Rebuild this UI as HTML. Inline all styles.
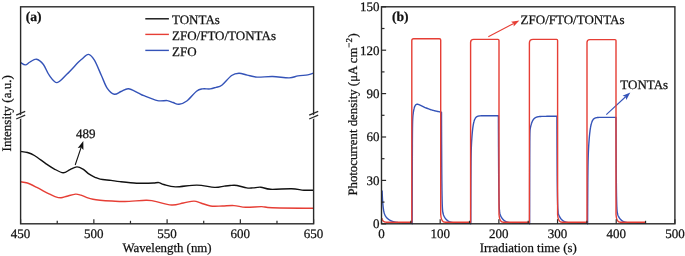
<!DOCTYPE html><html><head><meta charset="utf-8"><style>html,body{margin:0;padding:0;background:#fff;overflow:hidden;}svg{display:block;will-change:transform;}text{font-family:"Liberation Serif",serif;fill:#111;text-rendering:geometricPrecision;stroke:#111;stroke-width:0.25px;}</style></head><body>
<svg width="685" height="256" viewBox="0 0 685 256">
<path d="M20.50,62.50 C21.32,62.90 23.82,64.98 25.40,64.90 C26.98,64.82 28.15,62.95 30.00,62.00 C31.85,61.05 34.27,58.78 36.50,59.20 C38.73,59.62 41.28,61.83 43.40,64.50 C45.52,67.17 46.93,72.18 49.20,75.20 C51.47,78.22 54.07,82.75 57.00,82.60 C59.93,82.45 63.30,77.63 66.80,74.30 C70.30,70.97 75.47,65.15 78.00,62.60 C80.53,60.05 80.25,60.37 82.00,59.00 C83.75,57.63 86.43,54.20 88.50,54.40 C90.57,54.60 92.25,56.68 94.40,60.20 C96.55,63.72 99.25,70.80 101.40,75.50 C103.55,80.20 105.15,85.28 107.30,88.40 C109.45,91.52 112.02,93.68 114.30,94.20 C116.58,94.72 118.65,92.40 121.00,91.50 C123.35,90.60 125.57,88.58 128.40,88.80 C131.23,89.02 135.42,91.65 138.00,92.80 C140.58,93.95 140.65,94.40 143.90,95.70 C147.15,97.00 153.60,99.78 157.50,100.60 C161.40,101.42 164.70,100.28 167.30,100.60 C169.90,100.92 171.15,101.88 173.10,102.50 C175.05,103.12 176.72,104.55 179.00,104.30 C181.28,104.05 183.88,103.18 186.80,101.00 C189.72,98.82 193.90,93.22 196.50,91.20 C199.10,89.18 200.12,89.28 202.40,88.90 C204.68,88.52 207.93,89.17 210.20,88.90 C212.47,88.63 214.07,87.90 216.00,87.30 C217.93,86.70 219.20,87.27 221.80,85.30 C224.40,83.33 228.73,77.52 231.60,75.50 C234.47,73.48 236.40,73.27 239.00,73.20 C241.60,73.13 244.20,74.45 247.20,75.10 C250.20,75.75 252.77,76.87 257.00,77.10 C261.23,77.33 267.23,76.37 272.60,76.50 C277.97,76.63 284.97,78.00 289.20,77.90 C293.43,77.80 294.90,76.40 298.00,75.90 C301.10,75.40 305.30,75.35 307.80,74.90 C310.30,74.45 312.13,73.48 313.00,73.20" fill="none" stroke="#3453b8" stroke-width="1.4"/>
<path d="M20.60,151.50 C21.73,151.67 25.10,151.83 27.40,152.50 C29.70,153.17 31.28,153.62 34.40,155.50 C37.52,157.38 42.83,161.58 46.10,163.80 C49.37,166.02 51.15,167.30 54.00,168.80 C56.85,170.30 60.53,172.67 63.20,172.80 C65.87,172.93 67.72,170.58 70.00,169.60 C72.28,168.62 74.73,166.97 76.90,166.90 C79.07,166.83 80.95,167.98 83.00,169.20 C85.05,170.42 87.20,172.85 89.20,174.20 C91.20,175.55 93.18,176.48 95.00,177.30 C96.82,178.12 97.43,178.58 100.10,179.10 C102.77,179.62 107.68,179.98 111.00,180.40 C114.32,180.82 115.73,181.13 120.00,181.60 C124.27,182.07 131.87,182.93 136.60,183.20 C141.33,183.47 145.50,183.23 148.40,183.20 C151.30,183.17 152.25,183.10 154.00,183.00 C155.75,182.90 157.27,182.35 158.90,182.60 C160.53,182.85 161.03,183.78 163.80,184.50 C166.57,185.22 169.98,186.80 175.50,186.90 C181.02,187.00 190.40,185.02 196.90,185.10 C203.40,185.18 209.95,187.23 214.50,187.40 C219.05,187.57 221.62,186.42 224.20,186.10 C226.78,185.78 227.87,185.60 230.00,185.50 C232.13,185.40 234.22,185.10 237.00,185.50 C239.78,185.90 244.05,187.50 246.70,187.90 C249.35,188.30 250.55,188.02 252.90,187.90 C255.25,187.78 257.87,186.97 260.80,187.20 C263.73,187.43 265.37,189.03 270.50,189.30 C275.63,189.57 286.03,188.65 291.60,188.80 C297.17,188.95 300.23,189.97 303.90,190.20 C307.57,190.43 311.98,190.20 313.60,190.20" fill="none" stroke="#111" stroke-width="1.4"/>
<path d="M20.60,181.80 C21.73,182.00 24.70,182.07 27.40,183.00 C30.10,183.93 33.28,185.63 36.80,187.40 C40.32,189.17 45.47,192.07 48.50,193.60 C51.53,195.13 52.92,195.90 55.00,196.60 C57.08,197.30 59.00,197.87 61.00,197.80 C63.00,197.73 64.58,196.82 67.00,196.20 C69.42,195.58 73.17,194.27 75.50,194.10 C77.83,193.93 79.08,194.62 81.00,195.20 C82.92,195.78 85.00,196.92 87.00,197.60 C89.00,198.28 90.83,198.87 93.00,199.30 C95.17,199.73 96.83,199.92 100.00,200.20 C103.17,200.48 107.85,200.78 112.00,201.00 C116.15,201.22 119.23,201.62 124.90,201.50 C130.57,201.38 141.15,200.37 146.00,200.30 C150.85,200.23 149.73,200.32 154.00,201.10 C158.27,201.88 166.72,204.68 171.60,205.00 C176.48,205.32 179.57,203.65 183.30,203.00 C187.03,202.35 191.08,201.10 194.00,201.10 C196.92,201.10 198.03,202.18 200.80,203.00 C203.57,203.82 207.02,205.50 210.60,206.00 C214.18,206.50 218.40,206.07 222.30,206.00 C226.20,205.93 230.08,205.38 234.00,205.60 C237.92,205.82 241.18,207.13 245.80,207.30 C250.42,207.47 257.30,206.52 261.70,206.60 C266.10,206.68 263.55,207.52 272.20,207.80 C280.85,208.08 306.70,208.22 313.60,208.30" fill="none" stroke="#e63e35" stroke-width="1.4"/>
<rect x="20.60" y="6.80" width="293.00" height="217.00" fill="none" stroke="#2a2a2a" stroke-width="1.4"/>
<line x1="20.60" y1="223.80" x2="20.60" y2="219.20" stroke="#2a2a2a" stroke-width="1.2"/>
<line x1="57.23" y1="223.80" x2="57.23" y2="220.80" stroke="#2a2a2a" stroke-width="1.2"/>
<line x1="93.85" y1="223.80" x2="93.85" y2="219.20" stroke="#2a2a2a" stroke-width="1.2"/>
<line x1="130.47" y1="223.80" x2="130.47" y2="220.80" stroke="#2a2a2a" stroke-width="1.2"/>
<line x1="167.10" y1="223.80" x2="167.10" y2="219.20" stroke="#2a2a2a" stroke-width="1.2"/>
<line x1="203.72" y1="223.80" x2="203.72" y2="220.80" stroke="#2a2a2a" stroke-width="1.2"/>
<line x1="240.35" y1="223.80" x2="240.35" y2="219.20" stroke="#2a2a2a" stroke-width="1.2"/>
<line x1="276.98" y1="223.80" x2="276.98" y2="220.80" stroke="#2a2a2a" stroke-width="1.2"/>
<line x1="313.60" y1="223.80" x2="313.60" y2="219.20" stroke="#2a2a2a" stroke-width="1.2"/>
<text x="20.60" y="237.60" font-size="13.00" text-anchor="middle">450</text>
<text x="93.85" y="237.60" font-size="13.00" text-anchor="middle">500</text>
<text x="167.10" y="237.60" font-size="13.00" text-anchor="middle">550</text>
<text x="240.35" y="237.60" font-size="13.00" text-anchor="middle">600</text>
<text x="313.60" y="237.60" font-size="13.00" text-anchor="middle">650</text>
<polygon points="17.60,116.30 23.60,113.80 23.60,117.40 17.60,119.90" fill="#fff"/>
<line x1="16.20" y1="115.20" x2="25.20" y2="111.40" stroke="#2a2a2a" stroke-width="1.25"/>
<line x1="16.20" y1="119.00" x2="25.20" y2="115.20" stroke="#2a2a2a" stroke-width="1.25"/>
<polygon points="310.60,116.30 316.60,113.80 316.60,117.40 310.60,119.90" fill="#fff"/>
<line x1="309.20" y1="115.20" x2="318.20" y2="111.40" stroke="#2a2a2a" stroke-width="1.25"/>
<line x1="309.20" y1="119.00" x2="318.20" y2="115.20" stroke="#2a2a2a" stroke-width="1.25"/>
<text x="25.8" y="21.00" font-size="13.60" font-weight="bold">(a)</text>
<text x="167" y="251.80" font-size="12.85" text-anchor="middle">Wavelength (nm)</text>
<text transform="translate(10.80,113.3) rotate(-90)" font-size="13.00" text-anchor="middle">Intensity (a.u.)</text>
<line x1="145.3" y1="18.80" x2="168.9" y2="18.80" stroke="#111" stroke-width="1.4"/>
<text x="172" y="24.10" font-size="13.00">TONTAs</text>
<line x1="145.3" y1="34.40" x2="168.9" y2="34.40" stroke="#e63e35" stroke-width="1.4"/>
<text x="172" y="39.70" font-size="13.00">ZFO/FTO/TONTAs</text>
<line x1="145.3" y1="50.40" x2="168.9" y2="50.40" stroke="#3453b8" stroke-width="1.4"/>
<text x="172" y="55.70" font-size="13.00">ZFO</text>
<text x="76" y="137.5" font-size="13.00">489</text>
<line x1="75.20" y1="165.00" x2="81.13" y2="147.44" stroke="#111" stroke-width="1.10"/><path d="M83.30,141.00 L83.42,150.01 L81.13,147.44 L77.74,148.09 Z" fill="#111"/>
<line x1="488.30" y1="36.80" x2="513.74" y2="23.39" stroke="#e63e35" stroke-width="1.10"/><path d="M519.40,20.40 L513.63,26.61 L513.74,23.39 L511.02,21.65 Z" fill="#e63e35"/>
<line x1="606.30" y1="114.60" x2="625.60" y2="96.75" stroke="#3453b8" stroke-width="1.10"/><path d="M630.30,92.40 L626.33,99.89 L625.60,96.75 L622.53,95.78 Z" fill="#3453b8"/>
<path d="M382.10,190.53 L382.22,193.43 L382.33,195.97 L382.45,198.21 L382.57,200.18 L382.69,201.92 L382.80,203.45 L382.92,204.81 L383.04,206.02 L383.16,207.09 L383.27,208.05 L383.39,208.90 L383.51,209.67 L383.63,210.36 L383.74,210.99 L383.86,211.55 L383.98,212.06 L384.10,212.53 L384.21,212.96 L384.33,213.35 L384.45,213.71 L384.56,214.04 L384.68,214.35 L384.80,214.64 L384.92,214.91 L385.03,215.17 L385.15,215.40 L385.27,215.63 L385.39,215.84 L385.50,216.04 L385.62,216.24 L385.74,216.42 L385.86,216.60 L385.97,216.76 L386.09,216.93 L386.21,217.08 L386.32,217.23 L386.44,217.37 L386.56,217.51 L386.68,217.65 L386.79,217.78 L386.91,217.91 L387.03,218.03 L387.15,218.15 L387.26,218.27 L387.38,218.38 L387.50,218.49 L387.62,218.60 L387.73,218.70 L387.85,218.80 L387.97,218.90 L388.09,219.00 L388.20,219.09 L388.32,219.18 L388.44,219.27 L388.55,219.36 L388.67,219.45 L388.79,219.53 L388.91,219.61 L389.02,219.69 L389.14,219.77 L389.26,219.85 L389.38,219.92 L389.49,219.99 L389.61,220.07 L389.73,220.13 L389.85,220.20 L389.96,220.27 L390.08,220.33 L390.20,220.40 L390.32,220.46 L390.43,220.52 L390.55,220.58 L390.67,220.64 L390.78,220.70 L390.90,220.75 L391.02,220.81 L391.14,220.86 L391.25,220.91 L391.37,220.96 L391.49,221.01 L391.61,221.06 L391.72,221.11 L391.84,221.15 L391.96,221.20 L392.08,221.24 L392.19,221.29 L392.31,221.33 L392.43,221.37 L392.55,221.41 L392.66,221.45 L392.78,221.49 L392.90,221.53 L393.01,221.57 L393.13,221.60 L393.25,221.64 L393.37,221.67 L393.48,221.71 L393.60,221.74 L393.72,221.77 L393.84,221.80 L393.95,221.84 L394.07,221.87 L394.19,221.90 L394.31,221.92 L394.42,221.95 L394.54,221.98 L394.66,222.01 L394.77,222.03 L394.89,222.06 L395.01,222.09 L395.13,222.11 L395.24,222.14 L395.36,222.16 L395.48,222.18 L395.60,222.21 L395.71,222.23 L395.83,222.25 L395.95,222.27 L396.07,222.29 L396.18,222.31 L396.30,222.33 L396.42,222.35 L396.54,222.37 L396.65,222.39 L396.77,222.41 L396.89,222.43 L397.00,222.44 L397.12,222.46 L397.24,222.48 L397.36,222.49 L397.47,222.51 L397.59,222.53 L397.71,222.54 L397.83,222.56 L397.94,222.57 L398.06,222.58 L398.18,222.60 L398.30,222.61 L398.41,222.63 L398.53,222.64 L398.65,222.65 L398.77,222.66 L398.88,222.68 L399.00,222.69 L399.12,222.70 L399.23,222.71 L399.35,222.72 L399.47,222.73 L399.59,222.74 L399.70,222.75 L399.82,222.77 L399.94,222.78 L400.06,222.78 L400.17,222.79 L400.29,222.80 L400.41,222.81 L400.53,222.82 L400.64,222.83 L400.76,222.84 L400.88,222.85 L400.99,222.86 L401.11,222.86 L401.23,222.87 L401.35,222.88 L401.46,222.89 L401.58,222.89 L401.70,222.90 L401.82,222.91 L401.93,222.92 L402.05,222.92 L402.17,222.93 L402.29,222.94 L402.40,222.94 L402.52,222.95 L402.64,222.95 L402.76,222.96 L402.87,222.97 L402.99,222.97 L403.11,222.98 L403.22,222.98 L403.34,222.99 L403.46,222.99 L403.58,223.00 L403.69,223.00 L403.81,223.01 L403.93,223.01 L404.05,223.02 L404.16,223.02 L404.28,223.03 L404.40,223.03 L404.52,223.03 L404.63,223.04 L404.75,223.04 L404.87,223.05 L404.99,223.05 L405.10,223.05 L405.22,223.06 L405.34,223.06 L405.45,223.06 L405.57,223.07 L405.69,223.07 L405.81,223.07 L405.92,223.08 L406.04,223.08 L406.16,223.08 L406.28,223.09 L406.39,223.09 L406.51,223.09 L406.63,223.10 L406.75,223.10 L406.86,223.10 L406.98,223.10 L407.10,223.11 L407.22,223.11 L407.33,223.11 L407.45,223.11 L407.57,223.12 L407.68,223.12 L407.80,223.12 L407.92,223.12 L408.04,223.13 L408.15,223.13 L408.27,223.13 L408.39,223.13 L408.51,223.13 L408.62,223.14 L408.74,223.14 L408.86,223.14 L408.98,223.14 L409.09,223.14 L409.21,223.14 L409.33,223.15 L409.44,223.15 L409.56,223.15 L409.68,223.15 L409.80,223.15 L409.91,223.15 L410.03,223.16 L410.15,223.16 L410.27,223.16 L410.38,223.16 L410.50,223.16 L410.62,223.16 L410.74,223.16 L410.85,223.16 L410.97,223.17 L411.09,223.17 L411.21,223.17 L411.32,223.17 L411.44,223.17 L411.56,223.17 L411.67,223.17 L411.79,223.17 L411.91,223.18 L412.03,223.18 L412.14,223.18 L412.20,223.80 L412.26,183.69 L412.32,159.07 L412.38,143.87 L412.43,134.37 L412.49,128.35 L412.55,124.45 L412.61,121.84 L412.67,120.02 L412.73,118.70 L412.79,117.67 L412.85,116.85 L412.90,116.14 L412.96,115.52 L413.02,114.96 L413.08,114.45 L413.14,113.96 L413.20,113.50 L413.26,113.07 L413.31,112.65 L413.37,112.25 L413.43,111.87 L413.49,111.51 L413.55,111.16 L413.61,110.82 L413.67,110.50 L413.73,110.19 L413.78,109.89 L413.84,109.61 L413.90,109.34 L413.96,109.08 L414.02,108.83 L414.08,108.59 L414.14,108.36 L414.20,108.14 L414.25,107.92 L414.31,107.72 L414.37,107.53 L414.43,107.35 L414.49,107.17 L414.55,107.00 L414.61,106.84 L414.66,106.68 L414.72,106.54 L414.78,106.40 L414.84,106.26 L414.90,106.14 L414.96,106.01 L415.02,105.90 L415.08,105.79 L415.13,105.68 L415.19,105.58 L415.25,105.49 L415.31,105.40 L415.37,105.31 L415.43,105.23 L415.49,105.16 L415.54,105.08 L415.60,105.02 L415.66,104.95 L415.72,104.89 L415.78,104.83 L415.84,104.78 L415.90,104.73 L415.96,104.68 L416.01,104.64 L416.07,104.60 L416.13,104.56 L416.19,104.52 L416.25,104.49 L416.31,104.46 L416.37,104.43 L416.42,104.41 L416.48,104.38 L416.54,104.36 L416.60,104.34 L416.66,104.33 L416.72,104.31 L416.78,104.30 L416.84,104.29 L416.89,104.28 L416.95,104.27 L417.01,104.26 L417.07,104.26 L417.13,104.26 L417.19,104.25 L417.25,104.25 L417.31,104.26 L417.36,104.26 L417.42,104.26 L417.48,104.27 L417.54,104.27 L417.60,104.28 L417.66,104.29 L417.72,104.29 L417.77,104.30 L417.83,104.31 L417.89,104.33 L417.95,104.34 L418.01,104.35 L418.07,104.37 L418.13,104.38 L418.19,104.40 L418.24,104.41 L418.30,104.43 L418.36,104.45 L418.42,104.46 L418.48,104.48 L418.54,104.50 L418.60,104.52 L418.65,104.54 L418.71,104.56 L418.77,104.58 L418.83,104.61 L418.89,104.63 L418.95,104.65 L419.01,104.67 L419.07,104.70 L419.12,104.72 L419.18,104.74 L419.24,104.77 L419.30,104.79 L419.36,104.82 L419.42,104.84 L419.48,104.87 L419.53,104.89 L419.59,104.92 L419.65,104.94 L419.71,104.97 L419.77,105.00 L419.83,105.02 L419.89,105.05 L419.95,105.08 L420.00,105.11 L420.06,105.13 L420.12,105.16 L420.18,105.19 L420.24,105.22 L420.30,105.24 L420.36,105.27 L420.42,105.30 L420.47,105.33 L420.53,105.36 L420.59,105.38 L420.65,105.41 L420.71,105.44 L420.77,105.47 L420.83,105.50 L420.88,105.53 L420.94,105.56 L421.00,105.58 L421.06,105.61 L421.12,105.64 L421.18,105.67 L421.24,105.70 L421.30,105.73 L421.35,105.76 L421.41,105.79 L421.47,105.81 L421.53,105.84 L421.59,105.87 L421.65,105.90 L421.71,105.93 L421.76,105.96 L421.82,105.99 L421.88,106.02 L421.94,106.05 L422.00,106.07 L422.06,106.10 L422.12,106.13 L422.18,106.16 L422.23,106.19 L422.29,106.22 L422.35,106.25 L422.41,106.28 L422.47,106.30 L422.53,106.33 L422.59,106.36 L422.65,106.39 L422.70,106.42 L422.76,106.45 L422.82,106.47 L422.88,106.50 L422.94,106.53 L423.00,106.56 L423.06,106.59 L423.11,106.61 L423.17,106.64 L423.23,106.67 L423.29,106.70 L423.35,106.73 L423.41,106.75 L423.47,106.78 L423.53,106.81 L423.58,106.84 L423.64,106.86 L423.70,106.89 L423.76,106.92 L423.82,106.95 L423.88,106.97 L423.94,107.00 L424.52,107.27 L425.11,107.53 L425.70,107.78 L426.28,108.02 L426.87,108.26 L427.46,108.49 L428.04,108.71 L428.63,108.93 L429.22,109.14 L429.80,109.34 L430.39,109.54 L430.98,109.72 L431.56,109.91 L432.15,110.08 L432.74,110.25 L433.32,110.42 L433.91,110.58 L434.50,110.73 L435.09,110.88 L435.67,111.03 L436.26,111.17 L436.85,111.30 L437.43,111.44 L438.02,111.56 L438.61,111.68 L439.19,111.80 L439.78,111.92 L440.37,112.03 L440.95,112.14 L441.50,112.14 L441.56,129.89 L441.62,144.47 L441.68,156.45 L441.73,166.29 L441.79,174.38 L441.85,181.05 L441.91,186.54 L441.97,191.07 L442.03,194.82 L442.09,197.92 L442.15,200.49 L442.20,202.63 L442.26,204.42 L442.32,205.91 L442.38,207.16 L442.44,208.22 L442.50,209.12 L442.56,209.88 L442.61,210.54 L442.67,211.10 L442.73,211.60 L442.79,212.03 L442.85,212.41 L442.91,212.75 L442.97,213.05 L443.03,213.33 L443.08,213.58 L443.14,213.81 L443.20,214.02 L443.26,214.22 L443.32,214.41 L443.38,214.59 L443.44,214.76 L443.50,214.92 L443.55,215.07 L443.61,215.22 L443.67,215.37 L443.73,215.51 L443.79,215.64 L443.85,215.77 L443.91,215.90 L443.96,216.03 L444.02,216.15 L444.08,216.27 L444.14,216.39 L444.20,216.50 L444.26,216.62 L444.32,216.73 L444.38,216.83 L444.43,216.94 L444.49,217.05 L444.55,217.15 L444.61,217.25 L444.67,217.35 L444.73,217.45 L444.79,217.54 L444.84,217.64 L444.90,217.73 L444.96,217.82 L445.02,217.91 L445.08,218.00 L445.14,218.08 L445.20,218.17 L445.26,218.25 L445.31,218.33 L445.37,218.41 L445.43,218.49 L445.49,218.57 L445.55,218.65 L445.61,218.72 L445.67,218.80 L445.72,218.87 L445.78,218.94 L445.84,219.01 L445.90,219.08 L445.96,219.15 L446.02,219.22 L446.08,219.29 L446.14,219.35 L446.19,219.41 L446.25,219.48 L446.31,219.54 L446.37,219.60 L446.43,219.66 L446.49,219.72 L446.55,219.78 L446.61,219.83 L446.66,219.89 L446.72,219.94 L446.78,220.00 L446.84,220.05 L446.90,220.10 L446.96,220.16 L447.02,220.21 L447.07,220.26 L447.13,220.31 L447.19,220.35 L447.25,220.40 L447.31,220.45 L447.37,220.49 L447.43,220.54 L447.49,220.58 L447.54,220.63 L447.60,220.67 L447.66,220.71 L447.72,220.75 L447.78,220.79 L447.84,220.83 L447.90,220.87 L447.95,220.91 L448.01,220.95 L448.07,220.99 L448.13,221.03 L448.19,221.06 L448.25,221.10 L448.31,221.13 L448.37,221.17 L448.42,221.20 L448.48,221.23 L448.54,221.27 L448.60,221.30 L448.66,221.33 L448.72,221.36 L448.78,221.39 L448.83,221.42 L448.89,221.45 L448.95,221.48 L449.01,221.51 L449.07,221.54 L449.13,221.57 L449.19,221.59 L449.25,221.62 L449.30,221.65 L449.36,221.67 L449.42,221.70 L449.48,221.72 L449.54,221.75 L449.60,221.77 L449.66,221.80 L449.72,221.82 L449.77,221.84 L449.83,221.87 L449.89,221.89 L449.95,221.91 L450.01,221.93 L450.07,221.95 L450.13,221.98 L450.18,222.00 L450.24,222.02 L450.30,222.04 L450.36,222.06 L450.42,222.07 L450.48,222.09 L450.54,222.11 L450.60,222.13 L450.65,222.15 L450.71,222.17 L450.77,222.18 L450.83,222.20 L450.89,222.22 L450.95,222.23 L451.01,222.25 L451.06,222.27 L451.12,222.28 L451.18,222.30 L451.24,222.31 L451.30,222.33 L451.36,222.34 L451.42,222.36 L451.48,222.37 L451.53,222.39 L451.59,222.40 L451.65,222.41 L451.71,222.43 L451.77,222.44 L451.83,222.45 L451.89,222.47 L451.95,222.48 L452.00,222.49 L452.06,222.50 L452.12,222.51 L452.18,222.53 L452.24,222.54 L452.30,222.55 L452.36,222.56 L452.41,222.57 L452.47,222.58 L452.53,222.59 L452.59,222.60 L452.65,222.61 L452.71,222.62 L452.77,222.63 L452.83,222.64 L452.88,222.65 L452.94,222.66 L453.00,222.67 L453.06,222.68 L453.12,222.69 L453.18,222.70 L453.24,222.71 L453.29,222.71 L453.35,222.72 L453.41,222.73 L453.47,222.74 L453.53,222.75 L453.59,222.76 L453.65,222.76 L453.71,222.77 L453.76,222.78 L453.82,222.79 L453.88,222.79 L453.94,222.80 L454.00,222.81 L454.06,222.81 L454.12,222.82 L454.17,222.83 L454.23,222.83 L454.29,222.84 L454.35,222.85 L454.41,222.85 L454.47,222.86 L454.53,222.86 L454.59,222.87 L454.64,222.88 L454.70,222.88 L454.76,222.89 L454.82,222.89 L454.88,222.90 L454.94,222.90 L455.00,222.91 L455.06,222.91 L455.11,222.92 L455.17,222.92 L455.23,222.93 L455.29,222.93 L455.35,222.94 L455.41,222.94 L455.47,222.95 L455.52,222.95 L455.58,222.96 L455.64,222.96 L455.70,222.97 L455.76,222.97 L455.82,222.97 L455.88,222.98 L455.94,222.98 L455.99,222.99 L456.05,222.99 L456.11,222.99 L456.17,223.00 L456.23,223.00 L456.29,223.00 L456.35,223.01 L456.40,223.01 L456.46,223.02 L456.52,223.02 L456.58,223.02 L456.64,223.03 L456.70,223.03 L456.76,223.03 L456.82,223.03 L456.87,223.04 L456.93,223.04 L456.99,223.04 L457.05,223.05 L457.11,223.05 L457.17,223.05 L457.23,223.06 L457.28,223.06 L457.34,223.06 L457.40,223.06 L457.46,223.07 L457.52,223.07 L457.58,223.07 L457.64,223.07 L457.70,223.08 L457.75,223.08 L457.81,223.08 L457.87,223.08 L457.93,223.09 L457.99,223.09 L458.05,223.09 L458.11,223.09 L458.17,223.09 L458.22,223.10 L458.28,223.10 L458.34,223.10 L458.40,223.10 L458.46,223.10 L458.52,223.11 L458.58,223.11 L458.63,223.11 L458.69,223.11 L458.75,223.11 L458.81,223.12 L458.87,223.12 L458.93,223.12 L458.99,223.12 L459.05,223.12 L459.10,223.12 L460.28,223.15 L461.45,223.17 L462.62,223.19 L463.80,223.20 L464.97,223.20 L466.15,223.21 L467.32,223.21 L468.49,223.21 L469.67,223.22 L470.80,223.80 L470.86,196.72 L470.92,179.73 L470.98,168.88 L471.03,161.78 L471.09,156.98 L471.15,153.58 L471.21,151.05 L471.27,149.06 L471.33,147.43 L471.39,146.02 L471.45,144.76 L471.50,143.61 L471.56,142.54 L471.62,141.53 L471.68,140.57 L471.74,139.66 L471.80,138.78 L471.86,137.94 L471.91,137.13 L471.97,136.35 L472.03,135.60 L472.09,134.87 L472.15,134.18 L472.21,133.51 L472.27,132.86 L472.33,132.24 L472.38,131.64 L472.44,131.06 L472.50,130.50 L472.56,129.96 L472.62,129.45 L472.68,128.95 L472.74,128.47 L472.80,128.00 L472.85,127.56 L472.91,127.13 L472.97,126.71 L473.03,126.31 L473.09,125.93 L473.15,125.56 L473.21,125.20 L473.26,124.86 L473.32,124.53 L473.38,124.21 L473.44,123.90 L473.50,123.60 L473.56,123.32 L473.62,123.04 L473.68,122.77 L473.73,122.52 L473.79,122.27 L473.85,122.03 L473.91,121.80 L473.97,121.58 L474.03,121.37 L474.09,121.17 L474.14,120.97 L474.20,120.78 L474.26,120.60 L474.32,120.42 L474.38,120.25 L474.44,120.08 L474.50,119.93 L474.56,119.77 L474.61,119.63 L474.67,119.48 L474.73,119.35 L474.79,119.22 L474.85,119.09 L474.91,118.97 L474.97,118.85 L475.02,118.74 L475.08,118.63 L475.14,118.52 L475.20,118.42 L475.26,118.32 L475.32,118.23 L475.38,118.14 L475.44,118.05 L475.49,117.97 L475.55,117.89 L475.61,117.81 L475.67,117.73 L475.73,117.66 L475.79,117.59 L475.85,117.52 L475.91,117.46 L475.96,117.39 L476.02,117.33 L476.08,117.28 L476.14,117.22 L476.20,117.17 L476.26,117.11 L476.32,117.06 L476.37,117.02 L476.43,116.97 L476.49,116.92 L476.55,116.88 L476.61,116.84 L476.67,116.80 L476.73,116.76 L476.79,116.72 L476.84,116.69 L476.90,116.65 L476.96,116.62 L477.02,116.59 L477.08,116.56 L477.14,116.53 L477.20,116.50 L477.25,116.47 L477.31,116.44 L477.37,116.42 L477.43,116.39 L477.49,116.37 L477.55,116.34 L477.61,116.32 L477.67,116.30 L477.72,116.28 L477.78,116.26 L477.84,116.24 L477.90,116.22 L477.96,116.21 L478.02,116.19 L478.08,116.17 L478.13,116.16 L478.19,116.14 L478.25,116.13 L478.31,116.11 L478.37,116.10 L478.43,116.08 L478.49,116.07 L478.55,116.06 L478.60,116.05 L478.66,116.04 L478.72,116.03 L478.78,116.01 L478.84,116.00 L478.90,115.99 L478.96,115.99 L479.02,115.98 L479.07,115.97 L479.13,115.96 L479.19,115.95 L479.25,115.94 L479.31,115.94 L479.37,115.93 L479.43,115.92 L479.48,115.91 L479.54,115.91 L479.60,115.90 L479.66,115.90 L479.72,115.89 L479.78,115.88 L479.84,115.88 L479.90,115.87 L479.95,115.87 L480.01,115.86 L480.07,115.86 L480.13,115.85 L480.19,115.85 L480.25,115.85 L480.31,115.84 L480.36,115.84 L480.42,115.83 L480.48,115.83 L480.54,115.83 L480.60,115.82 L480.66,115.82 L480.72,115.82 L480.78,115.81 L480.83,115.81 L480.89,115.81 L480.95,115.81 L481.01,115.80 L481.07,115.80 L481.13,115.80 L481.19,115.80 L481.25,115.79 L481.30,115.79 L481.36,115.79 L481.42,115.79 L481.48,115.79 L481.54,115.78 L481.60,115.78 L481.66,115.78 L481.71,115.78 L481.77,115.78 L481.83,115.77 L481.89,115.77 L481.95,115.77 L482.01,115.77 L482.07,115.77 L482.13,115.77 L482.18,115.77 L482.24,115.77 L482.30,115.76 L482.36,115.76 L482.42,115.76 L482.48,115.76 L482.54,115.76 L483.12,115.75 L483.71,115.75 L484.30,115.74 L484.88,115.74 L485.47,115.74 L486.06,115.74 L486.64,115.74 L487.23,115.74 L487.82,115.73 L488.40,115.73 L488.99,115.73 L489.58,115.73 L490.16,115.73 L490.75,115.73 L491.34,115.73 L491.92,115.73 L492.51,115.73 L493.10,115.73 L493.69,115.73 L494.27,115.73 L494.86,115.73 L495.45,115.73 L496.03,115.73 L496.62,115.73 L497.21,115.73 L497.79,115.73 L498.38,115.73 L498.40,115.73 L498.46,132.92 L498.52,147.02 L498.58,158.61 L498.63,168.13 L498.69,175.96 L498.75,182.41 L498.81,187.73 L498.87,192.11 L498.93,195.74 L498.99,198.74 L499.05,201.23 L499.10,203.30 L499.16,205.02 L499.22,206.47 L499.28,207.68 L499.34,208.71 L499.40,209.57 L499.46,210.31 L499.51,210.95 L499.57,211.50 L499.63,211.97 L499.69,212.39 L499.75,212.76 L499.81,213.09 L499.87,213.38 L499.93,213.65 L499.98,213.89 L500.04,214.11 L500.10,214.32 L500.16,214.51 L500.22,214.70 L500.28,214.87 L500.34,215.03 L500.40,215.19 L500.45,215.34 L500.51,215.48 L500.57,215.62 L500.63,215.76 L500.69,215.89 L500.75,216.02 L500.81,216.14 L500.86,216.26 L500.92,216.38 L500.98,216.50 L501.04,216.61 L501.10,216.72 L501.16,216.83 L501.22,216.94 L501.28,217.04 L501.33,217.14 L501.39,217.25 L501.45,217.34 L501.51,217.44 L501.57,217.54 L501.63,217.63 L501.69,217.73 L501.74,217.82 L501.80,217.91 L501.86,217.99 L501.92,218.08 L501.98,218.17 L502.04,218.25 L502.10,218.33 L502.16,218.41 L502.21,218.49 L502.27,218.57 L502.33,218.65 L502.39,218.72 L502.45,218.80 L502.51,218.87 L502.57,218.94 L502.62,219.01 L502.68,219.08 L502.74,219.15 L502.80,219.22 L502.86,219.28 L502.92,219.35 L502.98,219.41 L503.04,219.48 L503.09,219.54 L503.15,219.60 L503.21,219.66 L503.27,219.72 L503.33,219.78 L503.39,219.83 L503.45,219.89 L503.51,219.94 L503.56,220.00 L503.62,220.05 L503.68,220.10 L503.74,220.15 L503.80,220.21 L503.86,220.26 L503.92,220.30 L503.97,220.35 L504.03,220.40 L504.09,220.45 L504.15,220.49 L504.21,220.54 L504.27,220.58 L504.33,220.63 L504.39,220.67 L504.44,220.71 L504.50,220.75 L504.56,220.79 L504.62,220.83 L504.68,220.87 L504.74,220.91 L504.80,220.95 L504.85,220.99 L504.91,221.02 L504.97,221.06 L505.03,221.10 L505.09,221.13 L505.15,221.17 L505.21,221.20 L505.27,221.23 L505.32,221.27 L505.38,221.30 L505.44,221.33 L505.50,221.36 L505.56,221.39 L505.62,221.42 L505.68,221.45 L505.73,221.48 L505.79,221.51 L505.85,221.54 L505.91,221.57 L505.97,221.59 L506.03,221.62 L506.09,221.65 L506.15,221.67 L506.20,221.70 L506.26,221.72 L506.32,221.75 L506.38,221.77 L506.44,221.80 L506.50,221.82 L506.56,221.84 L506.62,221.87 L506.67,221.89 L506.73,221.91 L506.79,221.93 L506.85,221.95 L506.91,221.97 L506.97,222.00 L507.03,222.02 L507.08,222.04 L507.14,222.06 L507.20,222.07 L507.26,222.09 L507.32,222.11 L507.38,222.13 L507.44,222.15 L507.50,222.17 L507.55,222.18 L507.61,222.20 L507.67,222.22 L507.73,222.23 L507.79,222.25 L507.85,222.27 L507.91,222.28 L507.96,222.30 L508.02,222.31 L508.08,222.33 L508.14,222.34 L508.20,222.36 L508.26,222.37 L508.32,222.39 L508.38,222.40 L508.43,222.41 L508.49,222.43 L508.55,222.44 L508.61,222.45 L508.67,222.47 L508.73,222.48 L508.79,222.49 L508.85,222.50 L508.90,222.51 L508.96,222.53 L509.02,222.54 L509.08,222.55 L509.14,222.56 L509.20,222.57 L509.26,222.58 L509.31,222.59 L509.37,222.60 L509.43,222.61 L509.49,222.62 L509.55,222.63 L509.61,222.64 L509.67,222.65 L509.73,222.66 L509.78,222.67 L509.84,222.68 L509.90,222.69 L509.96,222.70 L510.02,222.71 L510.08,222.71 L510.14,222.72 L510.19,222.73 L510.25,222.74 L510.31,222.75 L510.37,222.75 L510.43,222.76 L510.49,222.77 L510.55,222.78 L510.61,222.79 L510.66,222.79 L510.72,222.80 L510.78,222.81 L510.84,222.81 L510.90,222.82 L510.96,222.83 L511.02,222.83 L511.07,222.84 L511.13,222.85 L511.19,222.85 L511.25,222.86 L511.31,222.86 L511.37,222.87 L511.43,222.88 L511.49,222.88 L511.54,222.89 L511.60,222.89 L511.66,222.90 L511.72,222.90 L511.78,222.91 L511.84,222.91 L511.90,222.92 L511.96,222.92 L512.01,222.93 L512.07,222.93 L512.13,222.94 L512.19,222.94 L512.25,222.95 L512.31,222.95 L512.37,222.96 L512.42,222.96 L512.48,222.97 L512.54,222.97 L512.60,222.97 L512.66,222.98 L512.72,222.98 L512.78,222.99 L512.84,222.99 L512.89,222.99 L512.95,223.00 L513.01,223.00 L513.07,223.00 L513.13,223.01 L513.19,223.01 L513.25,223.02 L513.30,223.02 L513.36,223.02 L513.42,223.03 L513.48,223.03 L513.54,223.03 L513.60,223.03 L513.66,223.04 L513.72,223.04 L513.77,223.04 L513.83,223.05 L513.89,223.05 L513.95,223.05 L514.01,223.06 L514.07,223.06 L514.13,223.06 L514.18,223.06 L514.24,223.07 L514.30,223.07 L514.36,223.07 L514.42,223.07 L514.48,223.08 L514.54,223.08 L514.60,223.08 L514.65,223.08 L514.71,223.09 L514.77,223.09 L514.83,223.09 L514.89,223.09 L514.95,223.09 L515.01,223.10 L515.07,223.10 L515.12,223.10 L515.18,223.10 L515.24,223.10 L515.30,223.11 L515.36,223.11 L515.42,223.11 L515.48,223.11 L515.53,223.11 L515.59,223.12 L515.65,223.12 L515.71,223.12 L515.77,223.12 L515.83,223.12 L515.89,223.12 L515.95,223.13 L516.00,223.13 L517.18,223.15 L518.35,223.17 L519.52,223.19 L520.70,223.20 L521.87,223.20 L523.05,223.21 L524.22,223.21 L525.39,223.21 L526.57,223.22 L527.74,223.22 L528.91,223.22 L529.60,223.80 L529.66,178.95 L529.72,155.73 L529.78,143.64 L529.83,137.25 L529.89,133.80 L529.95,131.86 L530.01,130.71 L530.07,129.95 L530.13,129.41 L530.19,128.99 L530.25,128.62 L530.30,128.29 L530.36,127.98 L530.42,127.68 L530.48,127.40 L530.54,127.12 L530.60,126.85 L530.66,126.59 L530.71,126.34 L530.77,126.09 L530.83,125.85 L530.89,125.61 L530.95,125.39 L531.01,125.16 L531.07,124.94 L531.13,124.73 L531.18,124.52 L531.24,124.32 L531.30,124.12 L531.36,123.93 L531.42,123.74 L531.48,123.56 L531.54,123.38 L531.60,123.20 L531.65,123.03 L531.71,122.87 L531.77,122.71 L531.83,122.55 L531.89,122.39 L531.95,122.24 L532.01,122.10 L532.06,121.95 L532.12,121.82 L532.18,121.68 L532.24,121.55 L532.30,121.42 L532.36,121.29 L532.42,121.17 L532.48,121.05 L532.53,120.93 L532.59,120.82 L532.65,120.71 L532.71,120.60 L532.77,120.49 L532.83,120.39 L532.89,120.29 L532.94,120.19 L533.00,120.09 L533.06,120.00 L533.12,119.91 L533.18,119.82 L533.24,119.73 L533.30,119.65 L533.36,119.57 L533.41,119.49 L533.47,119.41 L533.53,119.33 L533.59,119.26 L533.65,119.19 L533.71,119.11 L533.77,119.05 L533.82,118.98 L533.88,118.91 L533.94,118.85 L534.00,118.79 L534.06,118.72 L534.12,118.66 L534.18,118.61 L534.24,118.55 L534.29,118.49 L534.35,118.44 L534.41,118.39 L534.47,118.34 L534.53,118.29 L534.59,118.24 L534.65,118.19 L534.71,118.14 L534.76,118.10 L534.82,118.06 L534.88,118.01 L534.94,117.97 L535.00,117.93 L535.06,117.89 L535.12,117.85 L535.17,117.81 L535.23,117.78 L535.29,117.74 L535.35,117.70 L535.41,117.67 L535.47,117.64 L535.53,117.60 L535.59,117.57 L535.64,117.54 L535.70,117.51 L535.76,117.48 L535.82,117.45 L535.88,117.42 L535.94,117.40 L536.00,117.37 L536.05,117.34 L536.11,117.32 L536.17,117.29 L536.23,117.27 L536.29,117.25 L536.35,117.22 L536.41,117.20 L536.47,117.18 L536.52,117.16 L536.58,117.14 L536.64,117.12 L536.70,117.10 L536.76,117.08 L536.82,117.06 L536.88,117.04 L536.94,117.02 L536.99,117.00 L537.05,116.99 L537.11,116.97 L537.17,116.95 L537.23,116.94 L537.29,116.92 L537.35,116.91 L537.40,116.89 L537.46,116.88 L537.52,116.86 L537.58,116.85 L537.64,116.84 L537.70,116.82 L537.76,116.81 L537.82,116.80 L537.87,116.79 L537.93,116.78 L537.99,116.76 L538.05,116.75 L538.11,116.74 L538.17,116.73 L538.23,116.72 L538.28,116.71 L538.34,116.70 L538.40,116.69 L538.46,116.68 L538.52,116.67 L538.58,116.66 L538.64,116.66 L538.70,116.65 L538.75,116.64 L538.81,116.63 L538.87,116.62 L538.93,116.62 L538.99,116.61 L539.05,116.60 L539.11,116.59 L539.16,116.59 L539.22,116.58 L539.28,116.57 L539.34,116.57 L539.40,116.56 L539.46,116.55 L539.52,116.55 L539.58,116.54 L539.63,116.54 L539.69,116.53 L539.75,116.53 L539.81,116.52 L539.87,116.52 L539.93,116.51 L539.99,116.51 L540.05,116.50 L540.10,116.50 L540.16,116.49 L540.22,116.49 L540.28,116.48 L540.34,116.48 L540.40,116.47 L540.46,116.47 L540.51,116.47 L540.57,116.46 L540.63,116.46 L540.69,116.46 L540.75,116.45 L540.81,116.45 L540.87,116.45 L540.93,116.44 L540.98,116.44 L541.04,116.44 L541.10,116.43 L541.16,116.43 L541.22,116.43 L541.28,116.42 L541.34,116.42 L541.92,116.40 L542.51,116.38 L543.10,116.36 L543.68,116.35 L544.27,116.34 L544.86,116.34 L545.44,116.33 L546.03,116.33 L546.62,116.32 L547.20,116.32 L547.79,116.32 L548.38,116.32 L548.96,116.32 L549.55,116.32 L550.14,116.32 L550.72,116.31 L551.31,116.31 L551.90,116.31 L552.49,116.31 L553.07,116.31 L553.66,116.31 L554.25,116.31 L554.83,116.31 L555.42,116.31 L556.01,116.31 L556.59,116.31 L556.90,116.31 L556.96,133.40 L557.02,147.43 L557.08,158.96 L557.13,168.43 L557.19,176.22 L557.25,182.63 L557.31,187.92 L557.37,192.28 L557.43,195.88 L557.49,198.87 L557.55,201.35 L557.60,203.40 L557.66,205.12 L557.72,206.56 L557.78,207.77 L557.84,208.79 L557.90,209.65 L557.96,210.38 L558.01,211.01 L558.07,211.56 L558.13,212.03 L558.19,212.45 L558.25,212.81 L558.31,213.14 L558.37,213.43 L558.43,213.70 L558.48,213.94 L558.54,214.16 L558.60,214.37 L558.66,214.56 L558.72,214.74 L558.78,214.91 L558.84,215.08 L558.90,215.23 L558.95,215.38 L559.01,215.52 L559.07,215.66 L559.13,215.80 L559.19,215.93 L559.25,216.05 L559.31,216.18 L559.36,216.30 L559.42,216.42 L559.48,216.53 L559.54,216.64 L559.60,216.76 L559.66,216.86 L559.72,216.97 L559.78,217.07 L559.83,217.18 L559.89,217.28 L559.95,217.38 L560.01,217.47 L560.07,217.57 L560.13,217.66 L560.19,217.75 L560.24,217.85 L560.30,217.93 L560.36,218.02 L560.42,218.11 L560.48,218.19 L560.54,218.28 L560.60,218.36 L560.66,218.44 L560.71,218.52 L560.77,218.59 L560.83,218.67 L560.89,218.75 L560.95,218.82 L561.01,218.89 L561.07,218.96 L561.12,219.04 L561.18,219.10 L561.24,219.17 L561.30,219.24 L561.36,219.31 L561.42,219.37 L561.48,219.43 L561.54,219.50 L561.59,219.56 L561.65,219.62 L561.71,219.68 L561.77,219.74 L561.83,219.79 L561.89,219.85 L561.95,219.91 L562.01,219.96 L562.06,220.02 L562.12,220.07 L562.18,220.12 L562.24,220.17 L562.30,220.22 L562.36,220.27 L562.42,220.32 L562.47,220.37 L562.53,220.42 L562.59,220.46 L562.65,220.51 L562.71,220.55 L562.77,220.60 L562.83,220.64 L562.89,220.68 L562.94,220.72 L563.00,220.77 L563.06,220.81 L563.12,220.85 L563.18,220.89 L563.24,220.92 L563.30,220.96 L563.35,221.00 L563.41,221.04 L563.47,221.07 L563.53,221.11 L563.59,221.14 L563.65,221.18 L563.71,221.21 L563.77,221.24 L563.82,221.28 L563.88,221.31 L563.94,221.34 L564.00,221.37 L564.06,221.40 L564.12,221.43 L564.18,221.46 L564.24,221.49 L564.29,221.52 L564.35,221.55 L564.41,221.58 L564.47,221.60 L564.53,221.63 L564.59,221.66 L564.65,221.68 L564.70,221.71 L564.76,221.73 L564.82,221.76 L564.88,221.78 L564.94,221.80 L565.00,221.83 L565.06,221.85 L565.12,221.87 L565.17,221.90 L565.23,221.92 L565.29,221.94 L565.35,221.96 L565.41,221.98 L565.47,222.00 L565.53,222.02 L565.58,222.04 L565.64,222.06 L565.70,222.08 L565.76,222.10 L565.82,222.12 L565.88,222.14 L565.94,222.15 L566.00,222.17 L566.05,222.19 L566.11,222.21 L566.17,222.22 L566.23,222.24 L566.29,222.26 L566.35,222.27 L566.41,222.29 L566.46,222.30 L566.52,222.32 L566.58,222.33 L566.64,222.35 L566.70,222.36 L566.76,222.38 L566.82,222.39 L566.88,222.40 L566.93,222.42 L566.99,222.43 L567.05,222.44 L567.11,222.46 L567.17,222.47 L567.23,222.48 L567.29,222.49 L567.35,222.51 L567.40,222.52 L567.46,222.53 L567.52,222.54 L567.58,222.55 L567.64,222.56 L567.70,222.57 L567.76,222.58 L567.81,222.60 L567.87,222.61 L567.93,222.62 L567.99,222.63 L568.05,222.64 L568.11,222.65 L568.17,222.65 L568.23,222.66 L568.28,222.67 L568.34,222.68 L568.40,222.69 L568.46,222.70 L568.52,222.71 L568.58,222.72 L568.64,222.73 L568.69,222.73 L568.75,222.74 L568.81,222.75 L568.87,222.76 L568.93,222.77 L568.99,222.77 L569.05,222.78 L569.11,222.79 L569.16,222.79 L569.22,222.80 L569.28,222.81 L569.34,222.82 L569.40,222.82 L569.46,222.83 L569.52,222.84 L569.57,222.84 L569.63,222.85 L569.69,222.85 L569.75,222.86 L569.81,222.87 L569.87,222.87 L569.93,222.88 L569.99,222.88 L570.04,222.89 L570.10,222.89 L570.16,222.90 L570.22,222.91 L570.28,222.91 L570.34,222.92 L570.40,222.92 L570.46,222.93 L570.51,222.93 L570.57,222.94 L570.63,222.94 L570.69,222.94 L570.75,222.95 L570.81,222.95 L570.87,222.96 L570.92,222.96 L570.98,222.97 L571.04,222.97 L571.10,222.98 L571.16,222.98 L571.22,222.98 L571.28,222.99 L571.34,222.99 L571.39,222.99 L571.45,223.00 L571.51,223.00 L571.57,223.01 L571.63,223.01 L571.69,223.01 L571.75,223.02 L571.80,223.02 L571.86,223.02 L571.92,223.03 L571.98,223.03 L572.04,223.03 L572.10,223.04 L572.16,223.04 L572.22,223.04 L572.27,223.04 L572.33,223.05 L572.39,223.05 L572.45,223.05 L572.51,223.06 L572.57,223.06 L572.63,223.06 L572.68,223.06 L572.74,223.07 L572.80,223.07 L572.86,223.07 L572.92,223.07 L572.98,223.08 L573.04,223.08 L573.10,223.08 L573.15,223.08 L573.21,223.09 L573.27,223.09 L573.33,223.09 L573.39,223.09 L573.45,223.09 L573.51,223.10 L573.57,223.10 L573.62,223.10 L573.68,223.10 L573.74,223.11 L573.80,223.11 L573.86,223.11 L573.92,223.11 L573.98,223.11 L574.03,223.11 L574.09,223.12 L574.15,223.12 L574.21,223.12 L574.27,223.12 L574.33,223.12 L574.39,223.12 L574.45,223.13 L574.50,223.13 L575.68,223.15 L576.85,223.17 L578.02,223.19 L579.20,223.20 L580.37,223.20 L581.55,223.21 L582.72,223.21 L583.89,223.21 L585.07,223.22 L586.24,223.22 L587.41,223.22 L587.60,223.80 L587.66,206.96 L587.72,194.46 L587.78,185.08 L587.83,177.95 L587.89,172.44 L587.95,168.12 L588.01,164.65 L588.07,161.80 L588.13,159.42 L588.19,157.37 L588.25,155.58 L588.30,153.99 L588.36,152.54 L588.42,151.21 L588.48,149.97 L588.54,148.81 L588.60,147.72 L588.66,146.67 L588.71,145.68 L588.77,144.73 L588.83,143.81 L588.89,142.93 L588.95,142.08 L589.01,141.26 L589.07,140.47 L589.13,139.71 L589.18,138.98 L589.24,138.27 L589.30,137.58 L589.36,136.91 L589.42,136.27 L589.48,135.65 L589.54,135.05 L589.60,134.47 L589.65,133.90 L589.71,133.36 L589.77,132.83 L589.83,132.33 L589.89,131.83 L589.95,131.36 L590.01,130.90 L590.06,130.45 L590.12,130.02 L590.18,129.61 L590.24,129.20 L590.30,128.81 L590.36,128.44 L590.42,128.07 L590.48,127.72 L590.53,127.38 L590.59,127.05 L590.65,126.73 L590.71,126.42 L590.77,126.13 L590.83,125.84 L590.89,125.56 L590.94,125.29 L591.00,125.03 L591.06,124.77 L591.12,124.53 L591.18,124.29 L591.24,124.07 L591.30,123.84 L591.36,123.63 L591.41,123.42 L591.47,123.22 L591.53,123.03 L591.59,122.84 L591.65,122.66 L591.71,122.49 L591.77,122.32 L591.82,122.15 L591.88,122.00 L591.94,121.84 L592.00,121.70 L592.06,121.55 L592.12,121.41 L592.18,121.28 L592.24,121.15 L592.29,121.02 L592.35,120.90 L592.41,120.79 L592.47,120.67 L592.53,120.56 L592.59,120.46 L592.65,120.35 L592.71,120.25 L592.76,120.16 L592.82,120.07 L592.88,119.98 L592.94,119.89 L593.00,119.80 L593.06,119.72 L593.12,119.65 L593.17,119.57 L593.23,119.50 L593.29,119.42 L593.35,119.36 L593.41,119.29 L593.47,119.22 L593.53,119.16 L593.59,119.10 L593.64,119.04 L593.70,118.99 L593.76,118.93 L593.82,118.88 L593.88,118.83 L593.94,118.78 L594.00,118.73 L594.05,118.69 L594.11,118.64 L594.17,118.60 L594.23,118.56 L594.29,118.52 L594.35,118.48 L594.41,118.44 L594.47,118.40 L594.52,118.37 L594.58,118.33 L594.64,118.30 L594.70,118.27 L594.76,118.24 L594.82,118.21 L594.88,118.18 L594.94,118.15 L594.99,118.12 L595.05,118.10 L595.11,118.07 L595.17,118.05 L595.23,118.02 L595.29,118.00 L595.35,117.98 L595.40,117.96 L595.46,117.94 L595.52,117.92 L595.58,117.90 L595.64,117.88 L595.70,117.86 L595.76,117.84 L595.82,117.83 L595.87,117.81 L595.93,117.79 L595.99,117.78 L596.05,117.76 L596.11,117.75 L596.17,117.74 L596.23,117.72 L596.28,117.71 L596.34,117.70 L596.40,117.68 L596.46,117.67 L596.52,117.66 L596.58,117.65 L596.64,117.64 L596.70,117.63 L596.75,117.62 L596.81,117.61 L596.87,117.60 L596.93,117.59 L596.99,117.58 L597.05,117.57 L597.11,117.57 L597.16,117.56 L597.22,117.55 L597.28,117.54 L597.34,117.54 L597.40,117.53 L597.46,117.52 L597.52,117.52 L597.58,117.51 L597.63,117.50 L597.69,117.50 L597.75,117.49 L597.81,117.49 L597.87,117.48 L597.93,117.48 L597.99,117.47 L598.05,117.47 L598.10,117.46 L598.16,117.46 L598.22,117.45 L598.28,117.45 L598.34,117.44 L598.40,117.44 L598.46,117.44 L598.51,117.43 L598.57,117.43 L598.63,117.43 L598.69,117.42 L598.75,117.42 L598.81,117.42 L598.87,117.41 L598.93,117.41 L598.98,117.41 L599.04,117.41 L599.10,117.40 L599.16,117.40 L599.22,117.40 L599.28,117.40 L599.34,117.39 L599.92,117.37 L600.51,117.36 L601.10,117.35 L601.68,117.34 L602.27,117.34 L602.86,117.33 L603.44,117.33 L604.03,117.33 L604.62,117.33 L605.20,117.33 L605.79,117.33 L606.38,117.33 L606.96,117.33 L607.55,117.33 L608.14,117.33 L608.72,117.33 L609.31,117.33 L609.90,117.33 L610.49,117.33 L611.07,117.33 L611.66,117.33 L612.25,117.33 L612.83,117.33 L613.42,117.33 L614.01,117.33 L614.59,117.33 L615.18,117.33 L615.77,117.33 L616.00,117.33 L616.06,134.25 L616.12,148.15 L616.18,159.56 L616.23,168.95 L616.29,176.66 L616.35,183.02 L616.41,188.25 L616.47,192.57 L616.53,196.14 L616.59,199.10 L616.65,201.55 L616.70,203.59 L616.76,205.29 L616.82,206.72 L616.88,207.91 L616.94,208.92 L617.00,209.78 L617.06,210.51 L617.11,211.13 L617.17,211.67 L617.23,212.14 L617.29,212.55 L617.35,212.91 L617.41,213.24 L617.47,213.53 L617.53,213.79 L617.58,214.03 L617.64,214.25 L617.70,214.45 L617.76,214.64 L617.82,214.82 L617.88,214.99 L617.94,215.15 L618.00,215.31 L618.05,215.46 L618.11,215.60 L618.17,215.73 L618.23,215.87 L618.29,216.00 L618.35,216.12 L618.41,216.24 L618.46,216.36 L618.52,216.48 L618.58,216.60 L618.64,216.71 L618.70,216.82 L618.76,216.92 L618.82,217.03 L618.88,217.13 L618.93,217.23 L618.99,217.33 L619.05,217.43 L619.11,217.53 L619.17,217.62 L619.23,217.72 L619.29,217.81 L619.34,217.90 L619.40,217.98 L619.46,218.07 L619.52,218.16 L619.58,218.24 L619.64,218.32 L619.70,218.40 L619.76,218.48 L619.81,218.56 L619.87,218.64 L619.93,218.71 L619.99,218.79 L620.05,218.86 L620.11,218.93 L620.17,219.01 L620.22,219.07 L620.28,219.14 L620.34,219.21 L620.40,219.28 L620.46,219.34 L620.52,219.41 L620.58,219.47 L620.64,219.53 L620.69,219.59 L620.75,219.65 L620.81,219.71 L620.87,219.77 L620.93,219.83 L620.99,219.88 L621.05,219.94 L621.11,219.99 L621.16,220.05 L621.22,220.10 L621.28,220.15 L621.34,220.20 L621.40,220.25 L621.46,220.30 L621.52,220.35 L621.57,220.40 L621.63,220.44 L621.69,220.49 L621.75,220.53 L621.81,220.58 L621.87,220.62 L621.93,220.66 L621.99,220.71 L622.04,220.75 L622.10,220.79 L622.16,220.83 L622.22,220.87 L622.28,220.91 L622.34,220.95 L622.40,220.98 L622.45,221.02 L622.51,221.06 L622.57,221.09 L622.63,221.13 L622.69,221.16 L622.75,221.20 L622.81,221.23 L622.87,221.26 L622.92,221.30 L622.98,221.33 L623.04,221.36 L623.10,221.39 L623.16,221.42 L623.22,221.45 L623.28,221.48 L623.34,221.51 L623.39,221.54 L623.45,221.56 L623.51,221.59 L623.57,221.62 L623.63,221.64 L623.69,221.67 L623.75,221.70 L623.80,221.72 L623.86,221.75 L623.92,221.77 L623.98,221.79 L624.04,221.82 L624.10,221.84 L624.16,221.86 L624.22,221.89 L624.27,221.91 L624.33,221.93 L624.39,221.95 L624.45,221.97 L624.51,221.99 L624.57,222.01 L624.63,222.03 L624.68,222.05 L624.74,222.07 L624.80,222.09 L624.86,222.11 L624.92,222.13 L624.98,222.15 L625.04,222.16 L625.10,222.18 L625.15,222.20 L625.21,222.22 L625.27,222.23 L625.33,222.25 L625.39,222.26 L625.45,222.28 L625.51,222.30 L625.56,222.31 L625.62,222.33 L625.68,222.34 L625.74,222.36 L625.80,222.37 L625.86,222.38 L625.92,222.40 L625.98,222.41 L626.03,222.43 L626.09,222.44 L626.15,222.45 L626.21,222.46 L626.27,222.48 L626.33,222.49 L626.39,222.50 L626.45,222.51 L626.50,222.52 L626.56,222.54 L626.62,222.55 L626.68,222.56 L626.74,222.57 L626.80,222.58 L626.86,222.59 L626.91,222.60 L626.97,222.61 L627.03,222.62 L627.09,222.63 L627.15,222.64 L627.21,222.65 L627.27,222.66 L627.33,222.67 L627.38,222.68 L627.44,222.69 L627.50,222.70 L627.56,222.71 L627.62,222.71 L627.68,222.72 L627.74,222.73 L627.79,222.74 L627.85,222.75 L627.91,222.75 L627.97,222.76 L628.03,222.77 L628.09,222.78 L628.15,222.78 L628.21,222.79 L628.26,222.80 L628.32,222.81 L628.38,222.81 L628.44,222.82 L628.50,222.83 L628.56,222.83 L628.62,222.84 L628.67,222.85 L628.73,222.85 L628.79,222.86 L628.85,222.86 L628.91,222.87 L628.97,222.88 L629.03,222.88 L629.09,222.89 L629.14,222.89 L629.20,222.90 L629.26,222.90 L629.32,222.91 L629.38,222.91 L629.44,222.92 L629.50,222.92 L629.56,222.93 L629.61,222.93 L629.67,222.94 L629.73,222.94 L629.79,222.95 L629.85,222.95 L629.91,222.96 L629.97,222.96 L630.02,222.96 L630.08,222.97 L630.14,222.97 L630.20,222.98 L630.26,222.98 L630.32,222.99 L630.38,222.99 L630.44,222.99 L630.49,223.00 L630.55,223.00 L630.61,223.00 L630.67,223.01 L630.73,223.01 L630.79,223.01 L630.85,223.02 L630.90,223.02 L630.96,223.02 L631.02,223.03 L631.08,223.03 L631.14,223.03 L631.20,223.04 L631.26,223.04 L631.32,223.04 L631.37,223.05 L631.43,223.05 L631.49,223.05 L631.55,223.06 L631.61,223.06 L631.67,223.06 L631.73,223.06 L631.78,223.07 L631.84,223.07 L631.90,223.07 L631.96,223.07 L632.02,223.08 L632.08,223.08 L632.14,223.08 L632.20,223.08 L632.25,223.09 L632.31,223.09 L632.37,223.09 L632.43,223.09 L632.49,223.09 L632.55,223.10 L632.61,223.10 L632.67,223.10 L632.72,223.10 L632.78,223.10 L632.84,223.11 L632.90,223.11 L632.96,223.11 L633.02,223.11 L633.08,223.11 L633.13,223.12 L633.19,223.12 L633.25,223.12 L633.31,223.12 L633.37,223.12 L633.43,223.12 L633.49,223.13 L633.55,223.13 L633.60,223.13 L634.78,223.15 L635.95,223.17 L637.12,223.19 L638.30,223.20 L639.47,223.20 L640.65,223.21 L641.82,223.21 L642.99,223.21 L644.17,223.22 L645.34,223.22 L645.56,223.22" fill="none" stroke="#3453b8" stroke-width="1.4" stroke-linejoin="round"/>
<path d="M381.90,218.30 L382.05,218.77 L382.19,219.18 L382.34,219.55 L382.49,219.87 L382.63,220.16 L382.78,220.41 L382.93,220.63 L383.07,220.83 L383.22,221.00 L383.37,221.15 L383.51,221.29 L383.66,221.41 L383.81,221.51 L383.95,221.60 L384.10,221.69 L384.25,221.76 L384.39,221.82 L384.54,221.88 L384.69,221.93 L384.83,221.97 L384.98,222.01 L385.13,222.04 L385.27,222.07 L385.42,222.10 L385.57,222.12 L385.71,222.14 L385.86,222.16 L386.01,222.18 L386.15,222.19 L386.30,222.21 L386.45,222.22 L386.59,222.23 L386.74,222.24 L386.89,222.24 L387.03,222.25 L387.18,222.26 L387.33,222.26 L387.47,222.27 L387.62,222.27 L387.77,222.27 L387.91,222.28 L388.06,222.28 L388.21,222.28 L388.35,222.28 L388.50,222.29 L388.65,222.29 L388.79,222.29 L388.94,222.29 L389.09,222.29 L389.23,222.29 L389.38,222.29 L389.53,222.29 L389.68,222.29 L389.82,222.30 L389.97,222.30 L390.12,222.30 L390.26,222.30 L390.41,222.30 L390.56,222.30 L390.70,222.30 L390.85,222.30 L391.00,222.30 L391.14,222.30 L391.29,222.30 L391.44,222.30 L391.58,222.30 L391.73,222.30 L391.88,222.30 L392.02,222.30 L392.17,222.30 L392.32,222.30 L392.46,222.30 L392.61,222.30 L392.76,222.30 L392.90,222.30 L393.05,222.30 L393.20,222.30 L393.34,222.30 L393.49,222.30 L393.64,222.30 L393.78,222.30 L393.93,222.30 L394.08,222.30 L394.22,222.30 L394.37,222.30 L394.52,222.30 L394.66,222.30 L394.81,222.30 L394.96,222.30 L395.10,222.30 L395.25,222.30 L395.40,222.30 L395.54,222.30 L395.69,222.30 L395.84,222.30 L395.98,222.30 L396.13,222.30 L396.28,222.30 L396.42,222.30 L396.57,222.30 L396.72,222.30 L396.86,222.30 L397.01,222.30 L397.16,222.30 L397.30,222.30 L397.45,222.30 L397.60,222.30 L397.74,222.30 L397.89,222.30 L398.04,222.30 L398.18,222.30 L398.33,222.30 L398.48,222.30 L398.62,222.30 L398.77,222.30 L398.92,222.30 L399.06,222.30 L399.21,222.30 L399.36,222.30 L399.50,222.30 L399.65,222.30 L399.80,222.30 L399.94,222.30 L400.09,222.30 L400.24,222.30 L400.38,222.30 L400.53,222.30 L400.68,222.30 L400.82,222.30 L400.97,222.30 L401.12,222.30 L401.26,222.30 L401.41,222.30 L401.56,222.30 L401.70,222.30 L401.85,222.30 L402.00,222.30 L402.14,222.30 L402.29,222.30 L402.44,222.30 L402.58,222.30 L402.73,222.30 L402.88,222.30 L403.02,222.30 L403.17,222.30 L403.32,222.30 L403.46,222.30 L403.61,222.30 L403.76,222.30 L403.90,222.30 L404.05,222.30 L404.20,222.30 L404.35,222.30 L404.49,222.30 L404.64,222.30 L404.79,222.30 L404.93,222.30 L405.08,222.30 L405.23,222.30 L405.37,222.30 L405.52,222.30 L405.67,222.30 L405.81,222.30 L405.96,222.30 L406.11,222.30 L406.25,222.30 L406.40,222.30 L406.55,222.30 L406.69,222.30 L406.84,222.30 L406.99,222.30 L407.13,222.30 L407.28,222.30 L407.43,222.30 L407.57,222.30 L407.72,222.30 L407.87,222.30 L408.01,222.30 L408.16,222.30 L408.31,222.30 L408.45,222.30 L408.60,222.30 L408.75,222.30 L408.89,222.30 L409.04,222.30 L409.19,222.30 L409.33,222.30 L409.48,222.30 L409.63,222.30 L409.77,222.30 L409.92,222.30 L410.07,222.30 L410.21,222.30 L410.36,222.30 L410.51,222.30 L410.65,222.30 L410.80,222.30 L410.95,222.30 L411.09,222.30 L411.24,222.30 L411.39,222.30 L411.53,222.30 L411.68,222.30 L411.80,222.30 L411.80,40.60 Q411.80,38.80 413.60,38.80 L439.40,38.80 Q440.70,38.80 440.70,40.10 L440.70,214.50 C441.00,219.50 442.20,222.30 445.20,222.30 L470.60,222.30 L470.60,42.40 Q470.60,39.40 473.60,39.40 L498.00,39.40 Q499.00,39.40 499.00,40.40 L499.00,214.50 C499.30,219.50 500.50,222.30 503.50,222.30 L529.40,222.30 L529.40,43.00 Q529.40,39.40 533.00,39.40 L556.60,39.40 Q557.60,39.40 557.60,40.40 L557.60,214.50 C557.90,219.50 559.10,222.30 562.10,222.30 L587.00,222.30 L587.00,42.40 Q587.00,39.60 589.80,39.60 L615.00,39.60 Q616.00,39.60 616.00,40.60 L616.00,214.50 C616.30,219.50 617.50,222.30 620.50,222.30 L645.56,222.30" fill="none" stroke="#e63e35" stroke-width="1.4" stroke-linejoin="round"/>
<rect x="381.50" y="6.80" width="293.40" height="217.00" fill="none" stroke="#2a2a2a" stroke-width="1.4"/>
<line x1="381.50" y1="223.80" x2="381.50" y2="219.20" stroke="#2a2a2a" stroke-width="1.2"/>
<text x="381.50" y="237.60" font-size="13.00" text-anchor="middle">0</text>
<line x1="410.84" y1="223.80" x2="410.84" y2="220.80" stroke="#2a2a2a" stroke-width="1.2"/>
<line x1="440.18" y1="223.80" x2="440.18" y2="219.20" stroke="#2a2a2a" stroke-width="1.2"/>
<text x="440.18" y="237.60" font-size="13.00" text-anchor="middle">100</text>
<line x1="469.52" y1="223.80" x2="469.52" y2="220.80" stroke="#2a2a2a" stroke-width="1.2"/>
<line x1="498.86" y1="223.80" x2="498.86" y2="219.20" stroke="#2a2a2a" stroke-width="1.2"/>
<text x="498.86" y="237.60" font-size="13.00" text-anchor="middle">200</text>
<line x1="528.20" y1="223.80" x2="528.20" y2="220.80" stroke="#2a2a2a" stroke-width="1.2"/>
<line x1="557.54" y1="223.80" x2="557.54" y2="219.20" stroke="#2a2a2a" stroke-width="1.2"/>
<text x="557.54" y="237.60" font-size="13.00" text-anchor="middle">300</text>
<line x1="586.88" y1="223.80" x2="586.88" y2="220.80" stroke="#2a2a2a" stroke-width="1.2"/>
<line x1="616.22" y1="223.80" x2="616.22" y2="219.20" stroke="#2a2a2a" stroke-width="1.2"/>
<text x="616.22" y="237.60" font-size="13.00" text-anchor="middle">400</text>
<line x1="645.56" y1="223.80" x2="645.56" y2="220.80" stroke="#2a2a2a" stroke-width="1.2"/>
<line x1="674.90" y1="223.80" x2="674.90" y2="219.20" stroke="#2a2a2a" stroke-width="1.2"/>
<text x="674.90" y="237.60" font-size="13.00" text-anchor="middle">500</text>
<line x1="381.50" y1="223.80" x2="386.10" y2="223.80" stroke="#2a2a2a" stroke-width="1.2"/>
<text x="379.4" y="228.20" font-size="13.00" text-anchor="end">0</text>
<line x1="381.50" y1="202.10" x2="384.50" y2="202.10" stroke="#2a2a2a" stroke-width="1.2"/>
<line x1="381.50" y1="180.40" x2="386.10" y2="180.40" stroke="#2a2a2a" stroke-width="1.2"/>
<text x="379.4" y="184.80" font-size="13.00" text-anchor="end">30</text>
<line x1="381.50" y1="158.70" x2="384.50" y2="158.70" stroke="#2a2a2a" stroke-width="1.2"/>
<line x1="381.50" y1="137.00" x2="386.10" y2="137.00" stroke="#2a2a2a" stroke-width="1.2"/>
<text x="379.4" y="141.40" font-size="13.00" text-anchor="end">60</text>
<line x1="381.50" y1="115.30" x2="384.50" y2="115.30" stroke="#2a2a2a" stroke-width="1.2"/>
<line x1="381.50" y1="93.60" x2="386.10" y2="93.60" stroke="#2a2a2a" stroke-width="1.2"/>
<text x="379.4" y="98.00" font-size="13.00" text-anchor="end">90</text>
<line x1="381.50" y1="71.90" x2="384.50" y2="71.90" stroke="#2a2a2a" stroke-width="1.2"/>
<line x1="381.50" y1="50.20" x2="386.10" y2="50.20" stroke="#2a2a2a" stroke-width="1.2"/>
<text x="379.4" y="54.60" font-size="13.00" text-anchor="end">120</text>
<line x1="381.50" y1="28.50" x2="384.50" y2="28.50" stroke="#2a2a2a" stroke-width="1.2"/>
<line x1="381.50" y1="6.80" x2="386.10" y2="6.80" stroke="#2a2a2a" stroke-width="1.2"/>
<text x="379.4" y="11.20" font-size="13.00" text-anchor="end">150</text>
<text x="392" y="21.00" font-size="13.60" font-weight="bold">(b)</text>
<text x="528.2" y="251.80" font-size="12.85" text-anchor="middle">Irradiation time (s)</text>
<text transform="translate(357.10,195.6) rotate(-90)" font-size="12.80">Photocurrent density (μA cm<tspan dy="-5" font-size="9">−2</tspan><tspan dy="5" dx="0.5">)</tspan></text>
<text x="520.6" y="23.50" font-size="13.00">ZFO/FTO/TONTAs</text>
<text x="620.3" y="89.4" font-size="13.00">TONTAs</text>
</svg></body></html>
